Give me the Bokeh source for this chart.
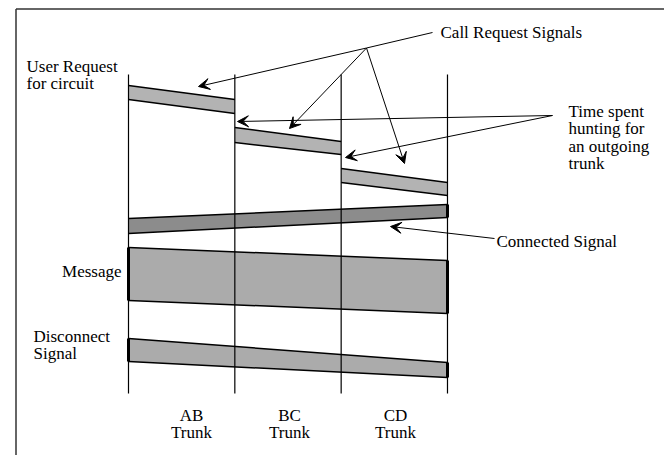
from bokeh.plotting import figure
from bokeh.models import Range1d, ColumnDataSource, Arrow, VeeHead
from bokeh.core.properties import value
from bokeh.embed import file_html
from bokeh.resources import INLINE

# ---------------- data ----------------
nodes = ["A", "B", "C", "D"]
node_pos = [0, 1, 2, 3]
hop_labels = ["AB", "BC", "CD"]
hop_sub = ["Trunk", "Trunk", "Trunk"]

# call request signal per hop (time at sending node / receiving node)
cr_send_top = [85, 127, 168]
cr_send_bot = [99, 142, 182]
cr_recv_top = [99, 141, 182]
cr_recv_bot = [113, 154, 195]

# connected signal (at node A, at node D)
conn_top = [218, 204]
conn_bot = [233, 217]

# message (at node A, at node D)
msg_top = [247, 260]
msg_bot = [300, 313]

# disconnect signal (at node A, at node D)
disc_top = [338, 362]
disc_bot = [361, 377]

# time span of the node lines
node_time = [74, 393]

# ---------------- layout helpers ----------------
PX = 106.33          # pixels per node spacing
X0 = 128             # pixel position of node A


def X(px):
    return (px - X0) / PX


W, H = 664, 455
p = figure(width=W, height=H, output_backend="svg", toolbar_location=None,
           x_range=Range1d(X(0), X(W)), y_range=Range1d(H, 0),
           x_axis_location=None, y_axis_location=None, min_border=0)
p.grid.visible = False
p.outline_line_color = None
p.background_fill_color = "white"

FONT = value("'Liberation Serif', 'Times New Roman', serif")
FS = value("17px")

# frame (top and left edges)
p.line([X(15.5), X(W)], [8.5, 8.5], line_color="#333333", line_width=1.5)
p.line([X(15.5), X(15.5)], [8.5, H], line_color="#333333", line_width=1.5)

LIGHT = "#b3b3b3"
DARK = "#8c8c8c"
MSG = "#ababab"

# call request bands
for i in range(3):
    x0, x1 = node_pos[i], node_pos[i + 1]
    p.patch([x0, x1, x1, x0], [cr_send_top[i], cr_recv_top[i], cr_recv_bot[i], cr_send_bot[i]],
            fill_color=LIGHT, line_color=None)
    p.line([x0, x1], [cr_send_top[i], cr_recv_top[i]], line_color="black", line_width=1.5)
    p.line([x0, x1], [cr_send_bot[i], cr_recv_bot[i]], line_color="black", line_width=1.5)

a, d = node_pos[0], node_pos[-1]


def band(top, bot, color, thick_left=True, thick_right=True):
    p.patch([a, d, d, a], [top[0], top[1], bot[1], bot[0]], fill_color=color, line_color=None)
    p.line([a, d], top, line_color="black", line_width=1.5)
    p.line([a, d], bot, line_color="black", line_width=1.5)
    if thick_left:
        p.line([a, a], [top[0], bot[0]], line_color="black", line_width=3)
    if thick_right:
        p.line([d, d], [top[1], bot[1]], line_color="black", line_width=3)


band(conn_top, conn_bot, DARK, thick_left=False)
band(msg_top, msg_bot, MSG)
band(disc_top, disc_bot, MSG)

# node lines
for xp in node_pos:
    p.line([xp, xp], node_time, line_color="black", line_width=1.2)

# ---------------- texts ----------------
txt = ColumnDataSource(dict(
    x=[X(26), X(26), X(440), X(568), X(568), X(568), X(568), X(496), X(33), X(33)],
    y=[66, 83, 32, 111, 128, 146, 163, 241, 336, 353],
    t=["User Request", "for circuit", "Call Request Signals", "Time spent", "hunting for",
       "an outgoing", "trunk", "Connected Signal", "Disconnect", "Signal"],
))
p.text(x="x", y="y", text="t", source=txt, text_font=FONT, text_font_size=FS,
       text_baseline="middle", text_align="left", text_color="black")
p.text(x=[X(121)], y=[271], text=["Message"], text_font=FONT, text_font_size=FS,
       text_baseline="middle", text_align="right", text_color="black")

hop_x = [X(191), X(289), X(395)]
p.text(x=hop_x, y=[415] * 3, text=hop_labels, text_font=FONT, text_font_size=FS,
       text_baseline="middle", text_align="center", text_color="black")
p.text(x=hop_x, y=[432] * 3, text=hop_sub, text_font=FONT, text_font_size=FS,
       text_baseline="middle", text_align="center", text_color="black")

# ---------------- arrows ----------------
p.line([X(432), X(366)], [32, 47.5], line_color="black", line_width=1)
arrows = [
    ((366, 47.5), (198, 86)),
    ((366, 47.5), (289, 128)),
    ((366, 47.5), (404, 163)),
    ((552, 115), (237, 121)),
    ((552, 115), (345, 157)),
    ((494, 238), (390, 226)),
]
for (xs, ys), (xe, ye) in arrows:
    p.add_layout(Arrow(end=VeeHead(size=11, fill_color="black", line_color="black", line_width=1),
                       x_start=X(xs), y_start=ys, x_end=X(xe), y_end=ye,
                       line_color="black", line_width=1))

open("out.html", "w").write(file_html(p, INLINE))
